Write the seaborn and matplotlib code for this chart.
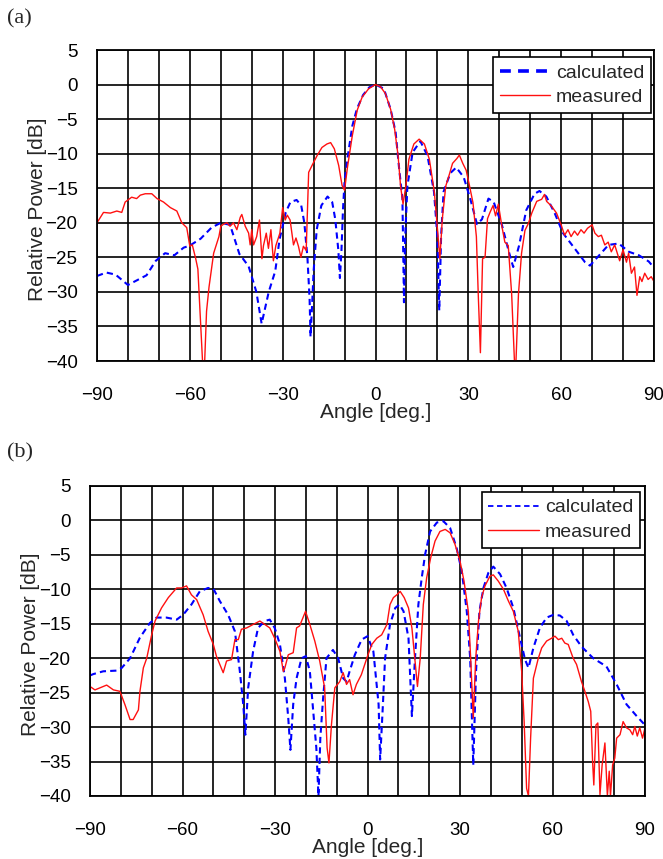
import matplotlib
matplotlib.use("Agg")
import matplotlib.pyplot as plt
import seaborn as sns

# ── (a) data ──────────────────────────────────────────────────────────
A_CALC_DEG = [-90, -87, -84, -80, -77, -74, -71, -68, -65, -62, -60, -56.5, -53, -50,
              -47, -44, -41, -38.5, -36.8, -34.5, -32.4, -31, -29, -27.5, -25.5, -24,
              -23, -22, -21.3, -21, -20.6, -20, -19, -17.5, -15.5, -14, -13, -12, -11.5,
              -11, -10.5, -10, -9, -7.5, -6, -4, -2, 0,
              2.7, 4.9, 6.5, 7.6, 8.7, 9.2, 9.6, 10.3, 12, 14.5, 16.8, 18.9, 20.0, 20.6,
              21.2, 22, 24.2, 26.1, 28.5, 30.6, 32.8, 34.4, 36.5, 38.2, 40.9, 43.1, 44.5,
              46.4, 48.7, 51.4, 53, 55.2, 57.9, 60.6, 64.5, 67.7, 69.3, 72.1, 75.3, 78.6,
              81.9, 85.1, 88.3, 90]
A_CALC_DB = [-27.7, -27.2, -27.5, -29, -28.3, -27.6, -25.5, -24.4, -24.7, -23.6, -23.3, -22.3, -20.7, -20,
             -20.3, -24.5, -26.3, -30, -34.6, -30, -27, -22.4, -18.5, -17, -16.7, -17.5,
             -20, -25, -31, -36.5, -33, -27, -21, -17.5, -16.2, -17, -19.5, -24, -28,
             -24, -18, -14, -10.5, -6, -3.5, -1.5, -0.4, 0,
             -0.6, -3.6, -6.9, -12, -16.5, -31.5, -22, -14.7, -9.8, -8.2, -10.3, -15.5, -22, -32.7,
             -22, -15.5, -12.8, -12, -13.4, -16.5, -20.2, -19.5, -16.5, -17, -20.4, -24.2, -26.4,
             -23.3, -18.2, -15.8, -15.4, -16.2, -18.6, -21.5, -23.8, -25.7, -26.2, -24.8, -23.2, -23,
             -24.2, -24.7, -25.6, -26.5]

A_MEAS_DEG = [-90, -87.9, -85.7, -83.6, -82, -80.9, -78.8, -77.2, -76, -74.4, -72.3, -70.6,
              -68.5, -66.3, -64.2, -62.6, -61, -60, -59.2, -58.1, -57.4, -56.5, -55.9, -55.2,
              -54.6, -53.8, -52.3, -50.6, -50, -49.1, -48, -47, -45.9, -44.8, -43.7, -43.2,
              -42.1, -41, -40.5, -40, -39.4, -38.4, -37.5, -36.7, -36.2, -35.3, -34.6, -33.8,
              -33, -32.2, -30.9, -30, -29.2, -28.5, -27.6, -26.5, -25.7, -24.9, -24.1, -23.3,
              -22.4, -21.6, -20.5, -18.9, -17.3, -15.7, -14.5, -13.3, -11.9, -10.8, -10, -9.1,
              -7.5, -5.9, -4.3, -2.2, 0,
              1.6, 3.2, 4.9, 6.2, 7.3, 8.1, 8.9, 9.8, 10.8, 12.4, 14.1, 15.8, 17.4, 19, 20.1,
              20.8, 21.6, 22.7, 23.8, 24.9, 26.3, 27.1, 28.2, 29.3, 30.4, 31.5, 32.6, 33.2,
              33.9, 34.6, 35.4, 36.2, 37, 38, 38.8, 39.7, 40.8, 41.8, 42.9, 44, 44.9, 45.4,
              46.2, 47.2, 48.3, 49.4, 50.5, 52.1, 53.7, 54.6, 55.3, 56.9, 58.5, 60, 61.1, 62.2,
              63.2, 64.3, 65.3, 66.4, 67.4, 68.5, 70, 70.9, 72, 73, 74.1, 75.2, 76.2, 77.3,
              78.9, 80, 81.1, 81.8, 82.7, 83.7, 84.5, 85.4, 86.1, 87, 88.1, 89.1, 90]
A_MEAS_DB = [-20, -18.5, -18.6, -18.3, -18.5, -17, -16.3, -16.5, -16, -15.8, -15.8, -16.5,
             -17, -17.8, -18.3, -20, -20.7, -23.4, -23.2, -25.2, -26.7, -34.8, -40, -40,
             -32.8, -29.3, -24.4, -22, -20.5, -20.2, -20, -20.5, -20, -21, -19.2, -18.8,
             -20.5, -21.5, -23.2, -21, -23.2, -22, -19.6, -25.2, -23.3, -21.5, -23.7, -21,
             -25.5, -23.3, -21.5, -17.8, -19.6, -18.9, -19.6, -23.2, -22.2, -23.4, -25, -23.4,
             -24, -12.7, -11.7, -10.3, -9.1, -8.6, -8.4, -9.3, -11.7, -14.6, -15.3, -12.1,
             -7.4, -3.7, -1.8, -0.6, 0,
             -0.3, -1.3, -3.6, -6.5, -10.3, -14.7, -17.3, -14.7, -10.8, -8.6, -7.9, -8.6, -10.8, -15.5, -21.3,
             -25.2, -19.4, -14.7, -13.1, -11.4, -10.7, -10.2, -11.4, -12.4, -14.7, -17.1, -22, -30.3,
             -38.8, -25.2, -25, -19.4, -18.5, -17.5, -19, -17.3, -20.4, -22.8, -23.3, -30.3, -40, -40,
             -30.3, -24.4, -21.1, -20.1, -18.6, -16.9, -16.6, -15.9, -16.9, -17.6, -18.6, -20.3, -21.8, -21,
             -22, -21.2, -21.8, -21, -21.5, -20.8, -20.3, -21.5, -22, -21.8, -23.2, -22.8, -24.2, -23.2,
             -25.5, -23.9, -25.7, -24.4, -27.3, -26.4, -30.5, -27.8, -28.5, -27.3, -28.2, -27.8, -28.5]

# ── (b) data ──────────────────────────────────────────────────────────
B_CALC_DEG = [-90, -88.9, -85.7, -81.4, -79.7, -77, -73.8, -70.6, -68.4, -65.2, -61.9, -59.8,
              -57.1, -54.4, -51.7, -50, -47.9, -45.2, -43, -41.4, -40.3, -39.6, -38.7, -37.1,
              -35.5, -33.3, -31.7, -30.1, -28.4, -26.8, -25.7, -25, -24.1, -23, -21.4, -20,
              -18.7, -17.6, -16.6, -15.9, -15.3, -14.4, -13.3, -11.2, -9.5, -7.9, -6.8, -5.8,
              -4.1, -1.9,
              0, 1.9, 3.6, 4.1, 5, 5.7, 7.3, 9, 10.4, 11.7, 13.3, 14.4, 15.4, 16.5, 17.6, 18.7,
              20.3, 22.5, 24.6, 26.8, 28.9, 30.6, 32.2, 33.3, 34.3, 35.2, 36.3, 37.6, 39.2, 40.8,
              43, 45.1, 47.3, 49.5, 51.1, 52.2, 53.8, 55.9, 58.1, 60.3, 62.4, 64.6, 66.7, 69.4,
              73.2, 77.5, 80.8, 84, 87.3, 90]
B_CALC_DB = [-22.5, -22.3, -21.9, -21.8, -21.4, -20, -17, -14.9, -14.1, -14.1, -14.4, -13.7,
             -12.2, -10.3, -9.8, -9.9, -11.7, -13.7, -16.1, -21.9, -26.7, -31.1, -24.3, -19,
             -15.6, -14.6, -14.4, -15.6, -18, -22.9, -28.7, -33.3, -26.7, -22.9, -20, -19.7,
             -21.9, -27.7, -33, -40, -31.6, -25.8, -20, -18.8, -20, -22.9, -23.4, -21.9,
             -19.5, -17.3,
             -16.8, -19, -26.7, -34.7, -26.7, -20, -15.1, -12.7, -12.2, -13.2, -17.1, -28.4, -20, -12.2, -8.3, -4.9,
             -1.6, -0.3, -0.1, -1.1, -4, -7.4, -13.2, -20, -35.5, -21.9, -13.2, -9.8, -7.6, -6.7,
             -7.8, -9.8, -12.7, -17.1, -20.2, -21.4, -18.5, -15.6, -14.1, -13.7, -13.8, -14.6, -16.6, -18.3,
             -20, -21.2, -23.8, -26.7, -28.4, -29.7]

B_MEAS_DEG = [-90, -88.4, -86.8, -84.6, -82.4, -80.3, -78.7, -77, -76, -74.3, -73.8, -72.7,
              -71.6, -70, -68.9, -66.8, -64.6, -61.9, -60.3, -58.7, -57.1, -55.4, -53.3, -51.7,
              -50, -49, -47.9, -46.8, -45.7, -44.1, -43, -41.9, -40.9, -39.2, -37.1, -34.9,
              -33.3, -31.7, -30.1, -28.4, -27.3, -26.8, -25.7, -24.1, -23, -22, -20.9, -20.1,
              -18.7, -17.1, -15.5, -13.9, -13.1, -12.5, -11.7, -10.6, -9, -7.9, -6.8, -5.8,
              -4.7, -3.6, -2,
              0, 1.4, 3, 4.6, 6.3, 7.3, 8.4, 9.5, 10.6, 11.9, 13.3, 14.4, 15.4, 16.2, 17.1, 18.1,
              19.2, 20.5, 21.9, 23.5, 25.2, 26.8, 28.4, 30, 31.3, 32.7, 33.5, 34.3, 35.1, 36, 37,
              38.1, 39.7, 40.8, 42.4, 44.1, 45.7, 47.3, 48.9, 50, 50.8, 51.6, 52.2, 52.9, 53.8,
              55.4, 56.5, 58.1, 59.7, 60.8, 61.9, 63, 64, 65.1, 66.7, 67.8, 69.4, 70.5, 71.6, 72.4,
              73, 73.4, 74.1, 74.7, 75.4, 76.1, 77, 77.8, 78.4, 78.8, 79.5, 80.2, 80.8, 81.9, 82.9,
              84, 85.1, 86, 86.7, 87.5, 88.3, 89.2, 90]
B_MEAS_DB = [-24.1, -24.6, -24.3, -23.9, -24.6, -24.8, -26.7, -28.9, -28.9, -27.5, -24.8, -21.4,
             -20, -16.6, -14.6, -12.7, -11.2, -9.8, -9.8, -9.5, -10.8, -11.5, -13.7, -16.1,
             -18, -19.7, -20.9, -22.1, -20.4, -20.2, -17.3, -17.3, -15.8, -15.6, -15.1, -14.6,
             -15.1, -15.6, -17.1, -19, -21.9, -21.4, -19.5, -19.2, -15.6, -15.3, -14.1, -13.2,
             -15.1, -17.5, -20.4, -24.3, -33, -35.2, -29.7, -24.3, -23.4, -22.1, -23.8, -23.1,
             -25.3, -23.8, -22.4,
             -19.7, -18, -17.1, -16.6, -15.1, -12.2, -11.2, -10.8, -10.3, -11.2, -12.7, -15.6, -20.4, -24.1, -20, -12.2,
             -8.3, -5.4, -3, -1.6, -1.3, -1.8, -3.5, -5.9, -8.8, -13.2, -20.4, -28.7, -20, -14.6, -11.2,
             -9.5, -8.1, -7.9, -8.8, -10, -11.7, -13.2, -16.1, -21.9, -29.2, -38.9, -40, -31.6, -22.9,
             -20, -18.5, -17.5, -17.1, -16.8, -17.3, -17.1, -17.8, -18, -20, -20.9, -23.4, -24.8, -26.3, -27.7,
             -35, -38.4, -29.7, -29.4, -39.8, -35.5, -32.3, -40, -36.4, -40, -35.5, -34.5, -31.6, -31.1, -29.2,
             -30.1, -30.4, -31.1, -29.9, -31.3, -30.1, -31.6, -30.1]

sns.set_style("white")
plt.rcParams["font.family"] = ["Liberation Sans", "DejaVu Sans"]

BLUE = "#0000ff"
RED = "#ff1010"
W, H = 663, 859


def draw(ax, calc_deg, calc_db, meas_deg, meas_db, anchor, leg_lw):
    sns.lineplot(x=calc_deg, y=calc_db, ax=ax, color=BLUE, lw=1.5,
                 linestyle=(0, (3, 2)), label="calculated", estimator=None, sort=False)
    sns.lineplot(x=meas_deg, y=meas_db, ax=ax, color=RED, lw=1.0,
                 label="measured", estimator=None, sort=False)
    ax.set_xlim(-90, 90)
    ax.set_ylim(-40, 5)
    ax.set_xticks(range(-90, 91, 30))
    ax.set_xticks(range(-90, 91, 10), minor=True)
    ax.set_yticks(range(-40, 6, 5))
    ax.grid(which="both", color="black", lw=1.2)
    ax.set_axisbelow(True)
    ax.tick_params(which="both", length=0, labelsize=13.5, colors="black")
    ax.tick_params(axis="x", pad=19)
    ax.tick_params(axis="y", pad=14)
    for s in ax.spines.values():
        s.set_color("black")
        s.set_linewidth(1.3)
    ax.set_xlabel("Angle [deg.]", fontsize=15)
    ax.set_ylabel("Relative Power [dB]", fontsize=15)
    ax.xaxis.set_label_coords(0.5, -0.135)
    ax.yaxis.set_label_coords(-0.09, 0.488)
    leg = ax.legend(loc="upper right", bbox_to_anchor=anchor, borderaxespad=0,
                    fontsize=14, frameon=True, fancybox=False, framealpha=1,
                    edgecolor="black", handlelength=2.6, handletextpad=0.3,
                    labelspacing=0.35, borderpad=0.35)
    leg.get_frame().set_linewidth(1.2)
    leg.get_lines()[0].set_linewidth(leg_lw)


fig = plt.figure(figsize=(W / 100, H / 100), dpi=100)
ax_a = fig.add_axes([97 / W, 1 - 361 / H, 557 / W, 311 / H])
ax_b = fig.add_axes([90 / W, 1 - 796 / H, 555 / W, 310 / H])

draw(ax_a, A_CALC_DEG, A_CALC_DB, A_MEAS_DEG, A_MEAS_DB, (0.995, 0.977), 2.6)
draw(ax_b, B_CALC_DEG, B_CALC_DB, B_MEAS_DEG, B_MEAS_DB, (0.991, 0.981), 1.3)

fig.text(7 / W, 1 - 9 / H, "(a)", family="Liberation Serif", fontsize=16, va="top")
fig.text(7 / W, 1 - 443 / H, "(b)", family="Liberation Serif", fontsize=16, va="top")

fig.savefig("out.png", dpi=100)
